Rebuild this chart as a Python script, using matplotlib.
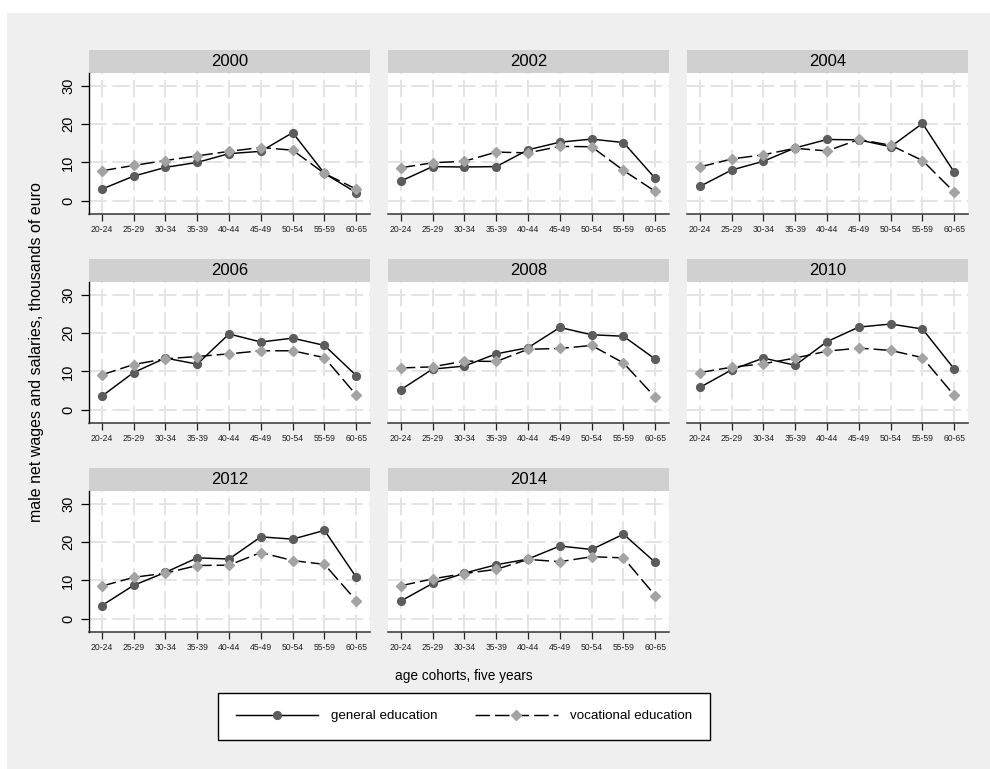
import matplotlib
matplotlib.use("Agg")
import matplotlib.pyplot as plt
from matplotlib.patches import Rectangle
from matplotlib.lines import Line2D

plt.rcParams['font.family'] = ['Liberation Sans', 'DejaVu Sans']

# age groups on the x axis, one panel per survey year
cohorts = ["20-24", "25-29", "30-34", "35-39", "40-44", "45-49", "50-54", "55-59", "60-65"]
years = [2000, 2002, 2004, 2006, 2008, 2010, 2012, 2014]

# male net wages and salaries, thousands of euro (rows follow years)
general = [
    [3.0, 6.4, 8.7, 10.0, 12.3, 12.9, 17.8, 7.1, 2.1],
    [5.1, 8.9, 8.8, 8.9, 13.3, 15.3, 16.1, 15.2, 5.8],
    [3.7, 8.0, 10.3, 13.8, 16.0, 15.9, 14.1, 20.2, 7.4],
    [3.5, 9.7, 13.5, 11.9, 19.8, 17.7, 18.7, 16.8, 8.9],
    [5.2, 10.6, 11.4, 14.6, 16.2, 21.5, 19.6, 19.2, 13.2],
    [5.8, 10.4, 13.5, 11.6, 17.8, 21.6, 22.4, 21.1, 10.6],
    [3.4, 8.7, 12.1, 15.9, 15.6, 21.4, 20.8, 23.1, 10.8],
    [4.6, 9.2, 11.9, 14.1, 15.6, 19.0, 18.1, 22.1, 14.7],
]
vocational = [
    [7.8, 9.2, 10.5, 11.7, 12.9, 13.9, 13.2, 7.1, 3.0],
    [8.6, 9.9, 10.3, 12.7, 12.5, 14.2, 14.1, 7.9, 2.4],
    [8.8, 10.9, 12.0, 13.7, 13.0, 16.0, 14.5, 10.5, 2.2],
    [9.1, 11.8, 13.3, 13.9, 14.6, 15.4, 15.4, 13.6, 3.8],
    [10.9, 11.2, 12.7, 12.6, 15.8, 16.0, 16.8, 12.2, 3.2],
    [9.7, 11.1, 12.0, 13.5, 15.3, 16.1, 15.5, 13.6, 3.7],
    [8.5, 10.8, 11.9, 13.9, 14.0, 17.3, 15.2, 14.2, 4.7],
    [8.6, 10.4, 11.8, 12.9, 15.5, 14.9, 16.2, 15.9, 6.0],
]

W, H = 990, 769
GEN_COLOR = '#5c5c5c'
VOC_COLOR = '#a3a3a3'
LW = 1.05
DASH = (0, (10, 3.4))
MS = 5.6


def box(x, y, w, h):
    # pixel box (top-left origin) -> figure fraction
    return [x / W, 1 - (y + h) / H, w / W, h / H]


fig = plt.figure(figsize=(W / 100, H / 100), dpi=100)
fig.patch.set_facecolor('white')
fig.patches.append(Rectangle((7 / W, 0), 1 - 7 / W, 1 - 13 / H, transform=fig.transFigure,
                             facecolor='#efefef', edgecolor='none', zorder=-10))

col_left = [89, 388, 687]
row_top = [73, 282, 491]
pw, ph = 281, 141
strip_h = 23.5
x = list(range(len(cohorts)))

for i, yr in enumerate(years):
    r, c = divmod(i, 3)
    x0, y0 = col_left[c], row_top[r]

    strip = fig.add_axes(box(x0, y0 - strip_h, pw, strip_h))
    strip.set_facecolor('#d0d0d0')
    strip.set_xticks([])
    strip.set_yticks([])
    for s in strip.spines.values():
        s.set_visible(False)
    strip.text(0.5, 0.5, str(yr), ha='center', va='center', fontsize=12, transform=strip.transAxes)

    ax = fig.add_axes(box(x0, y0, pw, ph))
    ax.set_facecolor('white')
    ax.set_xlim(-0.4, 8.43)
    ax.set_ylim(-3.5, 33.4)
    ax.set_axisbelow(True)
    ax.grid(color='#e4e4e4', lw=1.4, ls=(0, (9, 3)))

    ax.plot(x, general[i], color='black', lw=LW, marker='o', ms=MS,
            mfc=GEN_COLOR, mec=GEN_COLOR, zorder=3)
    ax.plot(x, vocational[i], color='black', lw=LW, ls=DASH, marker='D', ms=MS,
            mfc=VOC_COLOR, mec=VOC_COLOR, zorder=4)

    ax.spines['top'].set_visible(False)
    ax.spines['right'].set_visible(False)
    ax.spines['bottom'].set_color('#333333')
    ax.spines['bottom'].set_linewidth(1.1)

    ax.set_xticks(x)
    ax.set_xticklabels(cohorts)
    ax.tick_params(axis='x', length=5, width=0.9, pad=3, labelsize=6.2, colors='#222222')

    ax.set_yticks([0, 10, 20, 30])
    if c == 0:
        ax.spines['left'].set_color('black')
        ax.spines['left'].set_linewidth(1.0)
        ax.set_yticklabels(['0', '10', '20', '30'], rotation=90, va='center')
        ax.tick_params(axis='y', length=6, width=0.9, pad=4, labelsize=10.5)
    else:
        ax.spines['left'].set_visible(False)
        ax.tick_params(axis='y', length=0, labelleft=False)

fig.text(464 / W, 1 - 676 / H, 'age cohorts, five years', ha='center', va='center', fontsize=9.8)
fig.text(37 / W, 1 - 352 / H, 'male net wages and salaries, thousands of euro',
         rotation=90, ha='center', va='center', fontsize=11.5)

handles = [
    Line2D([], [], color='black', lw=LW, marker='o', ms=MS, mfc=GEN_COLOR, mec=GEN_COLOR),
    Line2D([], [], color='black', lw=LW, ls=DASH, marker='D', ms=MS, mfc=VOC_COLOR, mec=VOC_COLOR),
]
leg = fig.legend(handles, ['general education', 'vocational education'], loc='center',
                 bbox_to_anchor=(464 / W, 1 - 716 / H), ncol=2, frameon=True, fancybox=False,
                 edgecolor='black', framealpha=1, fontsize=9.6, handlelength=6.2,
                 handletextpad=0.95, columnspacing=2.8, borderpad=1.3)
leg.get_frame().set_linewidth(1.0)

fig.savefig('out.png', dpi=100)
